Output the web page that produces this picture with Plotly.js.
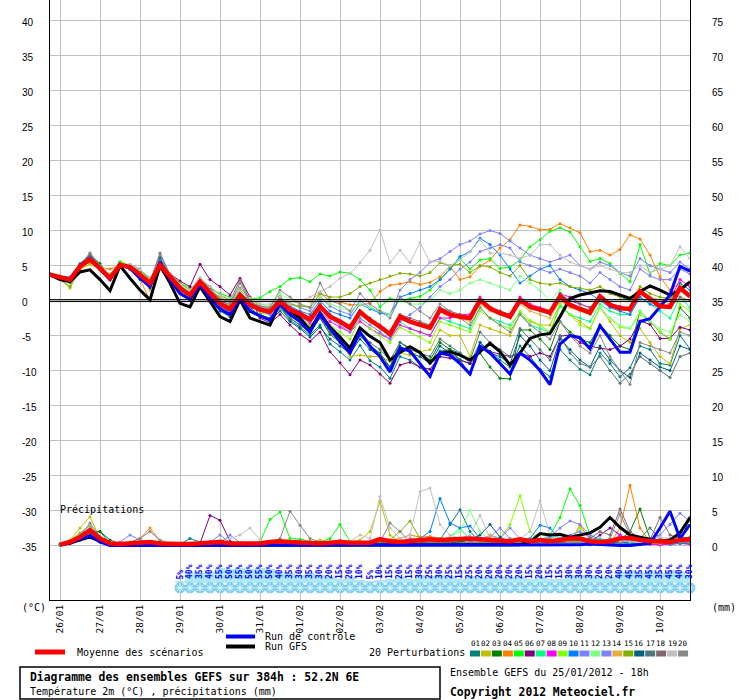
<!DOCTYPE html>
<html><head><meta charset="utf-8">
<script src="https://cdn.plot.ly/plotly-3.0.1.min.js"></script>
<style>html,body{margin:0;padding:0;background:#fff;}#chart{width:740px;height:700px;}</style>
</head><body><div id="chart"></div>
<script>
// ---------- DATA ----------
const hours = [0,6,12,18,24,30,36,42,48,54,60,66,72,78,84,90,96,102,108,114,120,126,132,138,144,150,156,162,168,174,180,186,192,198,204,210,216,222,228,234,240,246,252,258,264,270,276,282,288,294,300,306,312,318,324,330,336,342,348,354,360,366,372,378,384];
const precipHours = hours.slice(1);
const dateHours = [6,30,54,78,102,126,150,174,198,222,246,270,294,318,342,366];
const dateLabels = ['26/01','27/01','28/01','29/01','30/01','31/01','01/02','02/02','03/02','04/02','05/02','06/02','07/02','08/02','09/02','10/02'];
const tempTicks = [-35,-30,-25,-20,-15,-10,-5,0,5,10,15,20,25,30,35,40];
const precipTicks = [0,5,10,15,20,25,30,35,40,45,50,55,60,65,70,75];

const memberNames = ['01','02','03','04','05','06','07','08','09','10','11','12','13','14','15','16','17','18','19','20'];
const memberColors = ['#008080','#c0c000','#008000','#ff8000','#00ff00','#800080','#00ff80','#ff00ff','#80ff00','#0080ff','#8080ff','#80ff80','#8080f8','#e0b040','#80b000','#006080','#507878','#806870','#c0c0c0','#888888'];

// Temperature 2m (°C)
const meanT = [3.7,3.3,3.0,4.9,5.9,4.6,3.2,5.1,4.8,3.7,2.5,5.1,3.4,1.8,0.8,2.7,1.1,-0.4,-1.2,0.8,-0.6,
 -1.3,-1.6,-0.1,-1.3,-1.9,-2.7,-0.8,-2.3,-3.0,-3.9,-1.6,-2.8,-3.7,-4.8,-2.3,-3.0,-3.5,-3.9,-1.3,-2.0,
 -2.3,-2.5,0.1,-1.1,-1.8,-2.3,0.1,-0.9,-1.3,-1.7,0.6,-0.6,-1.2,-1.7,0.6,-0.6,-1.1,-1.2,1.3,0.3,-0.8,-0.9,1.8,0.6];
const gfsT = [3.7,3.0,2.7,4.1,4.4,3.0,1.4,5.0,3.2,1.5,0.1,5.0,2.5,-0.4,-0.9,2.0,-0.1,-2.3,-3.0,0.1,-2.5,
 -3.0,-3.5,-0.3,-1.5,-2.5,-4.2,-1.8,-3.8,-5.2,-6.8,-3.9,-5.1,-6.0,-8.5,-7.4,-6.6,-7.4,-8.9,-7.5,-7.3,
 -7.8,-8.5,-7.3,-6.1,-7.3,-9.2,-7.5,-5.4,-4.9,-4.7,-2.3,0.3,0.8,1.1,1.4,1.3,0.8,0.3,1.3,2.1,1.5,0.8,1.5,2.7];
const ctrlT = [3.7,3.3,2.9,5.0,6.0,4.5,3.0,5.2,4.6,3.2,2.0,5.5,3.0,1.0,0.2,2.3,0.3,-1.2,-2.0,0.3,-1.5,
 -2.2,-2.8,-0.5,-2.0,-3.0,-4.5,-2.0,-4.0,-5.8,-7.5,-4.5,-6.5,-8.0,-10.2,-6.8,-7.2,-9.0,-10.8,-7.5,-7.8,
 -9.0,-10.5,-6.5,-7.5,-9.0,-10.5,-7.5,-8.5,-10.0,-12.0,-6.2,-5.0,-5.3,-6.9,-3.6,-5.5,-7.4,-7.4,-3.0,-2.6,-0.9,0.8,4.9,4.2];

const t01 = [3.7,3.4,2.8,5.0,6.2,4.8,3.5,5.0,4.5,3.2,2.0,5.5,3.0,1.2,0.3,2.2,0.4,-1.2,-2.0,0.0,-1.4,
 -2.0,-2.6,-1.0,-2.8,-3.8,-4.9,-3.5,-6.2,-7.3,-8.5,-6.4,-8.6,-9.5,-11.1,-8.0,-8.5,-9.5,-10.9,-7.2,-7.0,
 -7.5,-9.0,-6.0,-7.2,-8.5,-9.5,-6.5,-8.0,-9.8,-10.9,-7.0,-8.5,-9.8,-10.6,-7.5,-9.0,-10.9,-9.6,-6.5,-7.0,-9.0,-9.2,-5.0,-6.9];
const t02 = [3.6,3.0,1.8,4.5,5.2,4.5,3.8,5.2,5.0,4.0,2.8,5.3,3.6,2.0,1.0,3.0,1.5,0.0,-0.8,1.2,-0.4,
 -1.5,-1.8,0.0,-1.5,-2.5,-3.5,-2.0,-4.5,-6.0,-8.0,-7.8,-8.0,-8.0,-8.7,-7.5,-7.8,-7.3,-7.0,-4.2,-5.0,
 -5.0,-8.0,-3.5,-4.0,-4.5,-5.0,-2.0,-3.0,-3.5,-3.5,-0.5,-2.0,-3.0,-4.0,-1.0,-3.0,-5.0,-6.0,-4.0,-6.0,-8.0,-9.0,-4.0,-3.5];
const t03 = [3.7,3.2,2.6,4.8,6.5,5.3,3.2,5.4,4.6,3.5,2.2,5.8,3.3,1.5,0.5,2.5,0.8,-0.8,-1.6,0.5,-1.0,
 -2.2,-2.8,-0.8,-2.5,-3.5,-4.5,-2.5,-4.8,-6.0,-7.0,-5.0,-6.5,-7.5,-9.5,-6.0,-6.8,-7.5,-8.5,-6.0,-7.0,
 -8.5,-9.0,-7.5,-9.5,-11.1,-11.2,-4.2,-4.2,-5.5,-7.0,-3.0,-4.5,-5.5,-6.0,-3.5,-5.0,-6.5,-7.0,-1.5,-3.0,-4.5,-5.5,-1.0,-2.5];
const t04 = [3.8,3.4,3.2,4.7,5.5,4.8,4.5,5.0,4.5,3.0,0.0,4.5,3.0,1.5,0.5,3.0,1.5,0.5,-0.2,0.0,-0.2,
 -1.0,-1.2,-0.1,-0.1,-0.1,-0.1,1.1,-0.1,-0.2,-0.6,-0.6,-0.4,1.3,2.2,2.4,2.7,2.3,2.6,3.4,4.9,
 3.0,3.4,4.9,5.8,7.5,8.7,10.8,10.6,10.1,10.2,11.0,10.4,9.7,7.0,7.2,6.5,7.3,9.4,8.8,6.5,3.4,1.5,2.5,0.6];
const t05 = [3.7,3.5,3.3,5.2,6.0,4.4,3.5,5.6,5.0,4.2,3.2,5.0,3.6,2.5,1.8,2.5,1.8,1.0,0.5,0.8,0.2,
 0.4,1.3,2.0,3.1,3.3,2.7,3.8,3.5,4.1,3.9,3.0,1.5,-0.9,0.3,0.0,0.3,0.6,1.5,3.0,4.5,
 6.0,4.5,5.8,6.0,4.6,4.8,5.8,7.7,8.7,9.9,10.4,9.8,7.7,5.6,6.0,5.3,3.9,2.7,8.0,3.8,5.3,5.0,6.5,6.8];
const t06 = [3.7,3.3,3.0,4.9,5.8,4.5,3.0,5.0,4.7,3.9,2.8,5.0,3.8,2.8,2.0,5.2,3.0,2.0,0.8,3.2,0.5,
 -2.5,-3.2,-2.0,-3.5,-4.8,-5.8,-4.5,-7.3,-8.9,-10.6,-8.5,-9.2,-10.5,-11.8,-9.2,-8.8,-9.5,-9.8,-8.0,-8.2,
 -8.5,-9.0,-6.8,-7.3,-7.6,-8.0,-7.5,-8.0,-7.5,-8.0,-5.1,-4.9,-6.0,-6.5,-6.8,-7.0,-6.5,-5.5,-2.9,-3.4,-5.4,-5.4,-3.8,-4.2];
const t07 = [3.7,3.3,3.1,5.1,6.0,4.7,3.3,5.2,4.9,3.8,2.6,5.2,3.5,1.8,0.9,2.8,1.2,-0.3,-1.0,1.0,-0.5,
 -1.5,-1.8,0.2,-1.2,-1.8,-2.5,-0.5,-2.0,-2.8,-3.5,-1.5,-3.0,-4.0,-5.2,-3.0,-4.0,-4.5,-5.0,-2.5,-3.0,
 -3.5,-4.0,-1.0,-2.5,-3.0,-3.5,-1.8,-3.5,-4.0,-4.5,-0.8,-2.0,-2.5,-3.0,-0.5,-1.5,-2.0,-2.0,0.5,-0.5,-1.5,-2.5,0.5,-1.0];
const t08 = [3.6,3.2,2.9,4.8,5.9,4.5,3.0,5.0,4.6,3.5,2.0,5.0,3.2,1.6,0.6,2.4,0.6,-0.8,-1.5,0.5,-0.9,
 -1.2,-1.5,0.0,-1.5,-2.2,-3.2,-1.5,-3.0,-3.8,-4.5,-3.0,-4.0,-4.8,-5.5,-3.5,-4.0,-4.5,-5.0,-2.5,-2.5,
 -2.0,-2.0,0.5,-1.0,-1.5,-2.0,0.5,-0.5,-1.0,-1.5,1.0,0.5,-0.5,-1.0,0.3,-0.5,-0.8,-1.5,1.5,0.5,0.0,0.2,3.0,2.0];
const t09 = [3.7,3.4,3.2,5.0,5.7,4.8,3.6,5.5,5.0,4.0,2.8,5.3,3.8,2.2,1.2,2.9,1.3,-0.2,-0.9,1.2,-0.3,
 -1.8,-2.0,-0.5,-2.0,-2.8,-3.8,-1.8,-3.5,-4.5,-5.5,-2.5,-4.0,-5.0,-6.0,-3.8,-4.5,-5.2,-6.0,-3.0,-3.5,
 -4.0,-4.5,-1.5,-2.5,-3.5,-4.0,-1.5,-2.8,-3.5,-4.5,-0.5,-2.0,-3.5,-4.0,-1.0,-2.5,-3.8,-4.0,-2.0,-3.0,-4.5,-5.5,-0.5,-1.5];
const t10 = [3.8,3.5,3.4,5.3,6.6,5.0,3.4,5.0,4.7,3.3,2.0,6.2,3.5,1.3,0.2,2.0,0.5,-1.0,-1.8,0.3,-1.2,
 -1.0,-1.5,0.5,-0.8,-1.5,-2.0,0.0,-1.5,-2.0,-2.5,-0.5,-1.2,-1.8,-2.0,0.5,1.0,1.5,2.0,3.0,4.5,
 6.3,7.0,8.9,8.0,6.5,4.5,2.5,3.5,4.5,5.0,3.0,2.0,1.5,1.0,0.0,-1.0,-1.5,-2.0,0.5,-0.5,-1.0,-0.8,2.5,1.5];
const t11 = [3.7,3.3,3.0,4.9,6.0,4.6,3.4,5.1,5.2,4.5,3.0,5.0,3.5,2.0,1.0,3.2,1.3,0.0,-0.5,1.5,0.0,
 -1.0,-1.2,0.5,-0.5,-1.0,-1.5,0.5,-0.8,-1.5,-2.0,0.0,-1.0,-1.5,-2.0,1.5,3.0,4.0,5.5,6.0,7.0,
 8.0,8.5,9.5,10.0,9.6,8.5,7.5,6.5,6.0,5.5,6.0,6.5,5.0,4.5,5.5,5.0,4.0,3.5,6.0,5.0,4.5,4.0,5.5,4.5];
const t12 = [3.7,3.4,3.1,5.0,5.8,4.6,3.3,5.2,4.9,4.0,2.9,5.1,3.6,2.2,1.3,2.8,1.6,0.3,-0.3,1.3,0.3,
 -0.5,-0.8,1.0,0.0,-0.5,-1.0,0.5,-0.5,-1.0,-1.5,-0.5,-1.0,-1.5,-2.0,0.0,-0.5,-0.5,0.0,1.5,1.0,
 1.5,2.5,3.0,2.5,2.0,1.5,3.5,2.5,1.5,0.0,1.5,-0.5,-1.5,-2.0,-1.0,-2.5,-3.5,-4.0,-1.5,-3.0,-4.0,-4.5,-2.0,-3.0];
const t13 = [3.6,3.2,2.9,4.8,6.2,4.7,3.2,5.0,4.8,3.6,2.3,5.5,3.4,1.6,0.6,2.6,0.9,-0.6,-1.4,0.6,-0.8,
 -1.5,-2.0,-0.2,-1.5,-2.5,-3.0,-1.0,-2.5,-3.5,-4.5,-2.5,-3.5,-4.5,-5.5,-3.0,-2.0,-1.0,0.5,2.0,3.0,
 4.5,5.5,7.0,7.5,8.0,7.5,5.5,5.0,4.5,4.0,4.5,4.0,3.5,2.5,4.0,3.0,2.0,1.5,4.5,3.5,3.0,3.0,4.5,3.8];
const t14 = [3.7,3.3,2.8,4.9,5.8,4.4,3.0,5.2,4.8,3.6,1.5,4.9,3.2,1.5,0.7,2.6,1.0,-0.5,-1.3,0.7,-0.7,
 -1.3,-1.6,0.0,-1.3,-2.0,-2.8,-1.0,-2.5,-3.2,-4.0,-2.0,-3.0,-3.8,-4.5,-2.5,-3.0,-3.5,-4.0,-1.5,-2.0,
 -2.5,-3.0,-0.5,-1.5,-2.0,-2.5,-0.5,-1.5,-2.0,-2.5,0.0,-1.0,-1.5,-2.0,0.5,-0.5,-1.0,-1.5,1.5,0.5,0.0,-0.5,2.0,1.0];
const t15 = [3.6,3.1,2.0,4.6,5.5,4.5,3.8,5.0,5.0,4.3,3.0,5.2,3.8,2.5,1.5,3.0,2.0,0.8,0.0,1.8,0.4,
 -0.8,-1.0,0.5,-0.5,-0.8,-1.0,1.0,0.5,0.5,1.0,2.0,2.5,3.0,3.5,3.9,3.8,3.5,4.0,5.4,5.0,
 5.2,4.0,5.0,4.8,4.0,3.5,5.0,3.0,2.5,2.3,2.5,2.0,1.8,1.5,2.0,1.0,0.5,0.0,2.0,1.0,0.5,0.3,1.5,0.8];
const t16 = [3.8,3.4,3.1,5.0,6.5,4.8,3.0,5.3,4.5,3.0,1.8,6.0,3.0,1.0,0.0,2.0,0.2,-1.5,-2.3,-0.2,-1.6,
 -2.3,-2.9,-1.5,-3.0,-4.0,-5.2,-3.8,-5.5,-6.5,-7.5,-5.5,-7.0,-8.0,-9.5,-6.5,-7.5,-8.0,-9.0,-6.5,-7.5,
 -8.5,-10.5,-6.0,-7.5,-8.0,-9.0,-5.0,-6.5,-8.5,-10.0,-5.5,-7.0,-8.5,-9.5,-6.5,-8.5,-10.0,-11.0,-7.5,-8.5,-9.5,-10.0,-6.5,-7.0];
const t17 = [3.7,3.3,3.0,5.0,6.3,4.7,3.1,5.0,4.6,3.3,2.1,5.8,3.1,1.2,0.3,2.3,0.5,-1.0,-1.8,0.2,-1.3,
 -2.0,-2.5,-1.0,-2.5,-3.5,-4.5,-2.5,-4.5,-5.5,-6.5,-4.5,-6.0,-7.0,-8.5,-6.0,-7.0,-7.5,-8.0,-5.5,-6.5,
 -7.5,-8.5,-4.5,-6.0,-7.0,-8.0,-4.0,-5.5,-7.0,-8.5,-5.0,-7.5,-9.0,-9.5,-8.0,-10.0,-11.8,-10.5,-8.0,-9.0,-10.0,-11.0,-8.0,-7.5];
const t18 = [3.7,3.4,3.2,5.1,6.8,5.0,3.5,5.3,5.0,4.0,2.7,6.8,3.7,2.0,1.0,2.9,1.8,0.2,-0.2,3.0,0.0,
 -1.0,-1.5,0.5,-1.0,-1.8,-2.5,-0.5,-2.0,-3.0,-3.8,-1.5,-2.5,-3.5,-4.5,-2.0,-2.5,-3.0,-3.5,-1.0,-1.5,
 -2.0,-2.5,0.0,-1.0,-1.5,-2.0,0.0,-1.0,-1.5,-2.0,1.0,0.0,-0.5,-1.0,0.5,-0.5,-1.0,-1.5,1.0,0.0,-0.5,-1.0,0.5,0.0];
const t19 = [3.7,3.5,3.3,5.0,6.0,4.9,3.7,5.1,5.2,4.4,3.3,5.0,3.8,2.3,1.5,3.3,2.0,0.8,0.3,1.5,0.3,
 -0.5,-0.5,0.5,-0.5,0.0,0.5,1.3,2.0,3.2,3.9,5.4,7.2,10.1,5.4,7.2,5.4,8.3,5.5,5.6,5.0,
 5.8,7.0,8.7,6.8,6.8,6.5,6.0,6.5,8.0,8.0,6.5,5.5,5.0,4.5,5.0,4.5,4.0,4.0,5.0,4.0,4.5,5.0,7.7,6.0];
const t20 = [3.7,3.4,3.2,5.1,6.7,5.0,3.4,5.2,4.9,3.8,2.5,6.7,3.6,1.8,0.8,2.8,1.5,0.0,-0.6,2.5,-0.2,
 -0.8,-1.0,1.5,0.5,-0.5,-1.0,2.5,0.0,-0.5,-1.5,1.0,-0.5,-1.5,-2.5,0.5,-0.5,-1.5,-2.5,-0.5,-1.5,
 -2.5,-3.5,-1.0,-2.5,-3.5,-4.5,-2.0,-3.5,-4.5,-5.5,-3.0,-5.0,-6.5,-7.5,-5.0,-8.0,-10.0,-12.0,-6.0,-6.5,-7.0,-7.5,-4.5,-5.0];

// Precipitation (mm), 6h steps from +6h
const meanP = [0.1,0.5,1.2,2.2,1.0,0.3,0.2,0.3, 0.4,0.5,0.3,0.2,0.2,0.2,0.3,0.5, 0.5,0.3,0.3,0.4,0.3,0.5,0.6,0.5, 0.4,0.3,0.3,0.4,0.5,0.4,0.4,0.4,
 0.9,0.6,0.5,0.6,0.8,0.9,0.8,0.9, 1.0,1.0,0.9,0.8,0.6,0.6,0.9,0.6, 0.8,0.6,0.8,1.0,1.0,0.6,0.5,0.6, 1.0,1.1,0.8,0.6,0.6,0.5,0.8,0.9];
const gfsP = [0.1,0.3,0.8,1.2,0.6,0.1,0.0,0.0, 0.0,0.0,0.0,0.0,0.0,0.0,0.0,0.0, 0.0,0.0,0.0,0.0,0.0,0.0,0.0,0.0, 0.0,0.0,0.0,0.0,0.0,0.0,0.0,0.0,
 0.0,0.0,0.0,0.0,0.0,0.0,0.0,0.0, 0.0,0.0,0.0,0.0,0.0,0.0,0.1,0.5, 1.7,1.5,1.6,1.2,1.5,1.8,2.6,4.0, 2.6,1.5,1.2,0.9,0.6,0.8,1.8,4.0];
const ctrlP = [0.1,0.4,0.9,1.4,0.5,0.0,0.0,0.0, 0.0,0.0,0.0,0.0,0.0,0.0,0.0,0.0, 0.0,0.0,0.0,0.0,0.0,0.0,0.0,0.0, 0.0,0.0,0.0,0.0,0.0,0.0,0.0,0.0,
 0.0,0.0,0.0,0.0,0.0,0.0,0.0,0.0, 0.0,0.0,0.0,0.0,0.0,0.0,0.0,0.0, 0.0,0.0,0.0,0.0,0.1,0.2,0.1,0.0, 0.0,0.0,0.1,0.3,2.5,4.9,1.0,3.0];
const p01 = [0.1,0.5,1.5,2.0,2.0,0.3,0.1,0.2, 0.3,0.2,0.1,0.1,0.2,1.0,0.5,0.3, 0.1,0.0,0.1,0.2,0.1,0.3,0.2,0.1, 0.2,0.1,0.0,0.1,0.2,0.3,0.2,0.1,
 0.2,0.4,0.3,0.2,0.5,0.6,0.8,3.0, 5.1,2.0,0.5,0.3,0.2,0.1,0.3,0.2, 0.1,0.2,0.3,0.2,0.1,0.2,0.1,0.2, 0.3,0.2,0.1,0.2,0.3,0.2,0.4,0.3];
const p02 = [0.2,0.8,2.5,4.1,1.0,0.2,0.1,0.1, 0.2,0.3,0.1,0.0,0.1,0.2,0.1,0.0, 0.1,0.2,0.3,0.1,0.2,0.5,0.3,0.1, 0.2,0.4,0.8,0.3,0.2,0.5,0.8,2.0,
 6.3,1.5,0.4,0.3,0.2,0.8,0.5,0.3, 0.2,0.1,0.2,0.3,0.2,0.4,0.6,0.3, 0.2,0.1,0.3,0.5,0.2,0.1,0.2,0.3, 0.2,0.1,0.3,0.2,0.1,0.4,0.3,1.0];
const p03 = [0.1,0.6,1.2,1.8,2.0,0.8,0.2,0.1, 0.1,0.2,0.1,0.1,0.0,0.1,0.2,0.1, 0.2,0.1,0.0,0.1,0.2,0.3,0.4,0.2, 0.1,0.1,0.2,0.5,0.3,0.2,0.1,0.2,
 0.3,0.2,0.1,0.2,0.4,0.3,0.2,0.5, 0.8,1.0,0.5,0.3,0.2,0.1,0.2,0.3, 0.2,0.3,0.5,0.3,0.2,0.1,0.3,0.5, 0.8,2.0,5.2,1.0,0.3,0.2,0.5,4.0];
const p04 = [0.1,0.4,1.0,1.6,0.8,0.3,0.2,0.5, 1.0,2.5,0.6,0.3,0.2,0.1,0.2,0.1, 0.1,0.2,0.1,0.3,0.2,0.1,0.2,0.3, 0.2,0.1,0.3,0.4,0.8,0.5,0.3,0.2,
 0.4,0.8,1.0,1.5,1.2,1.3,1.0,0.6, 0.4,0.3,0.5,0.4,0.3,0.6,0.5,0.3, 0.2,0.3,0.2,0.4,2.9,0.8,0.5,0.3, 2.5,8.6,2.5,0.5,0.3,0.2,0.6,0.5];
const p05 = [0.1,0.5,1.0,1.5,0.6,0.2,0.1,0.1, 0.2,0.1,0.1,0.2,0.1,0.0,0.1,0.2, 0.1,0.2,0.3,0.2,0.5,3.7,4.8,1.0, 0.9,0.6,0.5,1.0,3.0,0.6,0.4,0.3,
 0.5,0.3,0.2,0.3,0.5,0.8,1.0,0.7, 0.6,0.5,0.3,0.4,0.3,1.0,0.5,0.3, 0.6,1.5,4.0,8.1,5.7,1.5,0.8,0.4, 0.3,0.5,0.8,0.4,0.3,0.2,0.5,0.8];
const p06 = [0.1,0.4,0.8,1.2,0.5,0.2,0.1,0.1, 0.1,0.2,0.3,0.2,0.1,0.2,0.3,4.3, 3.6,0.6,0.2,0.1,0.1,0.2,0.1,0.2, 0.3,0.2,0.1,0.2,0.5,0.4,0.3,0.2,
 0.2,0.3,0.2,0.1,0.2,0.3,0.5,0.3, 0.2,0.3,0.2,0.1,0.2,0.3,0.2,0.1, 0.2,0.3,0.2,0.1,0.2,0.5,1.5,2.5, 1.5,0.5,0.3,0.2,0.1,0.2,0.3,0.2];
const p07 = [0.1,0.4,0.9,1.4,0.7,0.2,0.1,0.2, 0.1,0.1,0.2,0.1,0.1,0.1,0.2,0.2, 0.2,0.1,0.1,0.2,0.1,0.2,0.3,0.2, 0.2,0.3,0.2,0.1,0.2,0.3,0.2,0.3,
 0.2,0.3,0.4,0.3,0.5,0.4,0.6,1.2, 2.5,0.8,0.5,0.3,0.6,0.4,0.5,0.8, 0.6,1.0,1.5,0.8,0.5,0.4,1.0,0.6, 0.3,0.4,0.5,0.3,0.2,0.5,0.8,0.4];
const p08 = [0.1,0.3,0.8,1.2,0.6,0.2,0.1,0.1, 0.1,0.1,0.1,0.2,0.1,0.1,0.2,0.1, 0.1,0.1,0.1,0.1,0.2,0.1,0.1,0.2, 0.1,0.2,0.1,0.2,0.1,0.2,0.3,0.1,
 0.2,0.1,0.2,0.3,0.2,0.3,0.2,0.1, 0.2,0.3,0.2,0.1,0.2,0.3,0.2,0.4, 0.3,0.2,0.1,0.2,0.3,0.2,0.3,0.5, 1.5,0.5,0.3,0.2,0.1,0.2,0.3,0.2];
const p09 = [0.1,0.5,1.1,1.7,0.8,0.3,0.1,0.1, 0.2,0.1,0.2,0.1,0.1,0.2,0.1,0.1, 0.2,0.1,0.2,0.1,0.2,0.1,0.3,0.2, 0.1,0.2,0.3,0.2,0.1,0.2,0.3,0.4,
 0.5,0.3,0.2,0.4,0.3,0.2,0.3,0.4, 0.3,0.5,0.4,0.6,1.0,3.0,7.1,2.0, 0.8,0.5,0.4,0.6,2.5,1.0,0.5,0.3, 0.2,0.3,0.5,0.4,0.3,0.5,0.3,0.6];
const p10 = [0.1,0.4,0.8,1.3,0.6,0.3,0.2,0.4, 0.3,0.2,0.1,0.1,0.2,0.1,0.1,0.2, 0.1,0.2,0.1,0.1,0.2,0.1,0.2,0.1, 0.2,0.1,0.2,0.3,0.2,0.1,0.2,0.3,
 0.4,0.3,0.5,0.8,1.0,2.0,6.7,3.2, 2.5,2.8,1.0,0.5,0.3,0.5,0.8,1.0, 2.9,2.5,0.8,0.5,0.3,0.2,0.4,0.3, 0.2,0.3,0.2,0.5,0.3,0.2,0.3,0.4];
const p11 = [0.1,0.4,0.9,1.3,0.6,0.3,0.5,1.5, 0.8,0.3,0.2,0.1,0.1,0.2,0.1,0.2, 0.3,1.5,0.4,0.2,0.2,0.1,0.2,0.3, 0.2,0.1,0.2,0.3,0.2,0.3,0.4,0.3,
 0.5,0.4,0.6,0.5,0.4,0.3,0.5,0.6, 0.4,0.5,0.8,1.2,2.5,1.0,0.6,0.4, 0.5,0.8,1.0,1.5,2.0,1.2,0.6,0.4, 0.3,0.5,0.8,1.0,1.5,3.0,4.6,3.5];
const p12 = [0.1,0.5,1.0,1.6,0.7,0.2,0.1,0.2, 0.2,0.3,0.2,0.1,0.2,0.1,0.1,0.2, 0.2,0.1,0.3,0.2,0.1,0.2,0.3,0.2, 0.3,0.2,0.4,0.3,0.2,0.3,0.5,0.4,
 0.3,0.5,0.4,0.3,0.6,0.5,0.8,1.2, 2.0,5.0,2.0,0.8,0.5,0.4,0.6,0.5, 0.4,0.6,0.5,0.8,0.6,0.5,0.4,0.6, 0.8,0.5,0.4,0.6,0.5,0.8,0.6,0.5];
const p13 = [0.1,0.4,1.0,1.5,0.5,0.2,0.1,0.3, 0.2,0.1,0.2,0.1,0.1,0.2,0.3,0.5, 1.5,0.4,0.2,0.3,0.2,0.1,0.2,0.3, 0.2,0.3,0.2,0.4,0.3,0.2,0.4,0.6,
 0.8,0.6,0.5,1.0,0.8,0.6,0.5,0.8, 1.0,0.6,0.8,1.5,1.0,2.5,1.0,0.6, 0.8,1.2,2.5,3.5,3.0,1.5,0.8,0.6, 0.5,0.8,1.0,0.6,0.5,0.4,0.8,1.0];
const p14 = [0.1,0.4,0.9,1.5,0.6,0.2,0.1,0.2, 0.1,0.2,0.1,0.1,0.1,0.1,0.2,0.1, 0.1,0.2,0.1,0.2,0.1,0.2,0.1,0.2, 0.2,0.1,0.2,0.3,0.2,0.1,0.2,0.3,
 0.2,0.3,0.4,0.3,0.2,0.3,0.4,0.3, 0.4,0.3,0.5,1.5,0.8,0.5,0.4,0.3, 0.4,0.5,0.3,0.4,0.5,0.4,0.3,0.5, 1.0,0.8,0.5,0.4,0.3,0.5,1.5,0.8];
const p15 = [0.2,0.7,1.8,2.8,1.2,0.3,0.1,0.2, 0.1,0.2,0.1,0.2,0.1,0.2,0.1,0.1, 0.1,0.2,0.2,0.1,0.2,0.1,0.2,0.3, 0.2,0.3,0.2,0.1,0.3,0.2,0.4,0.3,
 0.5,0.8,2.0,3.5,1.0,0.6,0.4,0.3, 0.5,0.4,0.3,0.6,0.5,0.4,0.3,0.6, 0.8,0.5,0.4,0.6,0.5,0.8,0.6,0.4, 0.5,0.6,0.8,0.5,0.4,0.6,0.5,0.4];
const p16 = [0.1,0.4,1.0,1.5,0.8,0.2,0.1,0.1, 0.1,0.2,0.1,0.1,0.2,0.1,0.1,0.2, 0.1,0.1,0.2,0.1,0.2,0.3,0.2,0.1, 0.2,0.1,0.2,0.1,0.2,0.3,0.2,0.3,
 0.4,0.3,0.2,0.3,0.5,0.4,0.3,0.4, 0.5,0.8,1.5,3.0,1.2,0.5,0.4,0.3, 0.4,0.3,0.5,0.4,0.3,0.5,0.4,0.3, 0.5,0.4,0.3,0.5,0.8,0.6,0.4,0.5];
const p17 = [0.1,0.5,1.2,1.8,0.9,0.3,0.1,0.2, 0.2,0.1,0.1,0.2,0.1,0.1,0.2,0.1, 0.2,0.1,0.1,0.2,0.1,0.2,0.1,0.1, 0.1,0.2,0.1,0.2,0.3,0.2,0.1,0.2,
 0.3,0.2,0.3,0.4,0.3,0.2,0.4,0.3, 0.2,0.3,0.4,0.3,0.2,0.4,0.3,0.2, 0.3,0.4,0.3,0.2,0.3,0.4,0.5,0.3, 0.4,0.6,1.0,2.5,1.0,0.5,0.4,0.6];
const p18 = [0.1,0.5,1.3,2.2,1.0,0.3,0.1,0.1, 0.2,0.1,0.2,0.1,0.2,0.1,0.1,0.2, 0.1,0.2,0.1,0.2,0.1,0.2,0.3,0.2, 0.2,0.3,0.2,0.1,0.2,0.3,0.2,0.1,
 0.3,0.2,0.4,0.3,0.2,0.3,0.4,0.3, 0.2,0.4,0.3,0.5,0.4,0.3,0.5,0.4, 0.3,0.5,0.4,0.6,0.8,1.0,2.0,1.5, 5.2,2.0,1.0,0.8,4.0,1.5,1.0,1.2];
const p19 = [0.1,0.6,1.5,3.0,1.0,0.3,0.2,0.3, 0.5,0.6,0.3,0.2,0.1,0.2,0.3,0.5, 0.8,1.0,1.5,2.5,0.8,0.4,0.3,0.2, 0.3,0.5,0.4,0.3,0.5,0.6,1.5,1.0,
 7.0,2.5,1.0,1.5,7.7,8.2,3.0,1.5, 1.0,1.5,4.3,1.0,0.5,0.8,1.0,2.0, 6.4,1.5,0.8,0.5,0.4,0.6,0.5,0.8, 0.6,0.5,0.4,0.8,1.2,1.0,0.6,0.8];
const p20 = [0.1,0.5,1.4,3.2,1.2,0.3,0.2,0.4, 1.0,2.0,0.8,0.3,0.2,0.1,0.2,0.1, 0.1,0.2,0.3,0.2,0.3,0.5,1.0,4.9, 2.9,1.0,0.5,0.3,0.2,0.1,0.2,0.3,
 0.5,3.2,2.0,0.5,0.3,0.4,0.3,0.2, 0.3,0.5,0.4,0.3,0.2,0.5,0.4,0.3, 0.4,0.3,0.2,0.5,0.4,0.3,0.5,1.0, 4.5,1.5,0.8,0.5,0.4,0.3,0.5,0.4];

// Snow probability (%) from 29/01 00h
const snowHours = [78,84,90,96,102,108,114,120,126,132,138,144,150,156,162,168,174,180,186,192,198,204,210,216,222,228,234,240,246,252,258,264,270,276,282,288,294,300,306,312,318,324,330,336,342,348,354,360,366,372,378,384];
const snowPct = [5,40,35,40,55,50,55,50,55,50,40,35,30,35,30,20,15,20,10,5,10,15,20,15,30,25,30,25,15,25,20,20,20,20,20,15,20,15,15,30,30,30,20,20,40,45,35,45,35,45,40,30];

// ---------- FIGURE ----------
const tempMembers = [t01,t02,t03,t04,t05,t06,t07,t08,t09,t10,t11,t12,t13,t14,t15,t16,t17,t18,t19,t20];
const precipMembers = [p01,p02,p03,p04,p05,p06,p07,p08,p09,p10,p11,p12,p13,p14,p15,p16,p17,p18,p19,p20];
const MONO = 'DejaVu Sans Mono';
const SANS = 'Liberation Sans';
const traces = [];

// snow probability band and snowflakes
const BAND_BASE = -40.33, BAND_SCALE = 0.0393;
traces.push({type:'bar', x:snowHours, y:snowPct.map(p=>p*BAND_SCALE), base:BAND_BASE, width:6, opacity:1,
  marker:{color:'#ade9fa', line:{width:0}}, hoverinfo:'skip', showlegend:false});
traces.push({type:'scatter', mode:'markers', x:snowHours, y:snowHours.map(()=>-41.05), cliponaxis:false,
  marker:{symbol:'circle', size:11, color:'#72c8ee', line:{width:0}}, hoverinfo:'skip', showlegend:false});
traces.push({type:'scatter', mode:'markers', x:snowHours, y:snowHours.map(()=>-41.05), cliponaxis:false,
  marker:{symbol:'asterisk-open', size:8, color:'#e4f8ff', line:{width:1, color:'#e4f8ff'}}, hoverinfo:'skip', showlegend:false});

// precipitation members
precipMembers.forEach((p,k)=>traces.push({type:'scatter', mode:'lines+markers', x:precipHours, y:p, yaxis:'y2',
  line:{color:memberColors[k], width:1}, marker:{size:3, color:memberColors[k]}, name:'P'+memberNames[k], hoverinfo:'skip', showlegend:false}));
// temperature members
tempMembers.forEach((t,k)=>traces.push({type:'scatter', mode:'lines+markers', x:hours, y:t,
  line:{color:memberColors[k], width:1}, marker:{size:3, color:memberColors[k]}, name:'P'+memberNames[k], hoverinfo:'skip', showlegend:false}));

// GFS, control, mean
traces.push({type:'scatter', mode:'lines', x:precipHours, y:gfsP, yaxis:'y2', line:{color:'#000000', width:3}, hoverinfo:'skip', showlegend:false});
traces.push({type:'scatter', mode:'lines', x:precipHours, y:ctrlP, yaxis:'y2', line:{color:'#0000ff', width:3}, hoverinfo:'skip', showlegend:false});
traces.push({type:'scatter', mode:'lines', x:hours, y:gfsT, line:{color:'#000000', width:3}, hoverinfo:'skip', showlegend:false});
traces.push({type:'scatter', mode:'lines', x:hours, y:ctrlT, line:{color:'#0000ff', width:3}, hoverinfo:'skip', showlegend:false});
traces.push({type:'scatter', mode:'lines', x:precipHours, y:meanP, yaxis:'y2', line:{color:'#ff0000', width:4.5}, hoverinfo:'skip', showlegend:false});
traces.push({type:'scatter', mode:'lines', x:hours, y:meanT, line:{color:'#ff0000', width:4.5}, hoverinfo:'skip', showlegend:false});

// helpers: pixel -> paper coordinates (plot area x 50..690, y 0..600)
const px = v => (v-50)/640;
const py = v => (600-v)/600;

const annotations = [];
const shapes = [];
function label(text, x, y, opts){
  annotations.push(Object.assign({text:text, xref:'paper', yref:'paper', x:px(x), y:py(y), xanchor:'left', yanchor:'middle',
    showarrow:false, font:{family:MONO, size:10, color:'#000'}}, opts||{}));
}
// left/right axis labels
tempTicks.forEach(v=>annotations.push({text:String(v), xref:'paper', yref:'y', x:px(20), y:v, yshift:-2, xanchor:'left', yanchor:'middle', showarrow:false, font:{family:SANS, size:10, color:'#000'}}));
precipTicks.forEach(v=>annotations.push({text:String(v), xref:'paper', yref:'y2', x:px(710), y:v, yshift:-2, xanchor:'left', yanchor:'middle', showarrow:false, font:{family:SANS, size:10, color:'#000'}}));
// snow probability labels
snowHours.forEach((h,k)=>annotations.push({text:'<b>'+snowPct[k]+'%</b>', xref:'x', yref:'y', x:h, y:-40.0, textangle:-90, xanchor:'center', yanchor:'bottom',
  showarrow:false, font:{family:MONO, size:8, color:'#0000ff'}, borderpad:0}));

label('(°C)', 20, 607);
label('(mm)', 710, 607);
label('Précipitations', 58, 509);
label('Moyenne des scénarios', 75, 652);
label('Run de contrôle', 263, 636.5);
label('Run GFS', 263, 646.5);
label('20 Perturbations', 367, 652.5);
label('<b>Diagramme des ensembles GEFS sur 384h : 52.2N 6E</b>', 28, 677, {font:{family:MONO, size:11.4, color:'#000'}});
label('Température 2m (°C) , précipitations (mm)', 28, 691.5);
label('Ensemble GEFS du 25/01/2012 - 18h', 448, 672);
label('<b>Copyright 2012 Meteociel.fr</b>', 448, 692, {font:{family:MONO, size:11.4, color:'#000'}});

// member swatches
memberNames.forEach((n,k)=>{
  const x0 = 470 + k*10.95;
  shapes.push({type:'rect', xref:'paper', yref:'paper', x0:px(x0), x1:px(x0+10), y0:py(650.5), y1:py(656.5), fillcolor:memberColors[k], line:{width:0}});
  annotations.push({text:n, xref:'paper', yref:'paper', x:px(x0+5), y:py(643.5), xanchor:'center', yanchor:'middle', showarrow:false, font:{family:MONO, size:7.5, color:'#000'}});
});
// legend lines
shapes.push({type:'line', xref:'paper', yref:'paper', x0:px(35), x1:px(65), y0:py(652), y1:py(652), line:{color:'#ff0000', width:5}});
shapes.push({type:'line', xref:'paper', yref:'paper', x0:px(226), x1:px(255), y0:py(636.5), y1:py(636.5), line:{color:'#0000ff', width:4}});
shapes.push({type:'line', xref:'paper', yref:'paper', x0:px(226), x1:px(255), y0:py(646.5), y1:py(646.5), line:{color:'#000000', width:4}});
// title box
shapes.push({type:'rect', xref:'paper', yref:'paper', x0:px(20), x1:px(440), y0:py(667), y1:py(699), line:{color:'#000', width:1.5}, fillcolor:'rgba(0,0,0,0)'});
// double zero line
shapes.push({type:'line', xref:'paper', yref:'y', x0:0, x1:1, y0:0.14, y1:0.14, line:{color:'#000', width:1}});
shapes.push({type:'line', xref:'paper', yref:'y', x0:0, x1:1, y0:-0.14, y1:-0.14, line:{color:'#000', width:1}});

const layout = {
  width:740, height:700,
  margin:{l:50, r:50, t:0, b:100, pad:0},
  paper_bgcolor:'#ffffff', plot_bgcolor:'#ffffff',
  showlegend:false, bargap:0, barmode:'overlay',
  xaxis:{range:[0,384], tickvals:dateHours, ticktext:dateLabels, tickangle:-90, ticks:'', showgrid:true, gridcolor:'#c0c0c0', gridwidth:1,
    zeroline:false, showline:true, linecolor:'#000', linewidth:1, tickfont:{family:MONO, size:9.5, color:'#000'}, fixedrange:true},
  yaxis:{range:[-42.79,42.96], tickvals:tempTicks, showticklabels:false, ticks:'', showgrid:true, gridcolor:'#c0c0c0', gridwidth:1,
    zeroline:false, showline:true, linecolor:'#000', linewidth:1, fixedrange:true},
  yaxis2:{range:[-7.79,77.96], overlaying:'y', side:'right', tickvals:precipTicks, showticklabels:false, ticks:'', showgrid:false,
    zeroline:false, showline:true, linecolor:'#000', linewidth:1, fixedrange:true},
  annotations:annotations, shapes:shapes
};
Plotly.newPlot('chart', traces, layout, {displayModeBar:false, staticPlot:true});
</script>
</body></html>
